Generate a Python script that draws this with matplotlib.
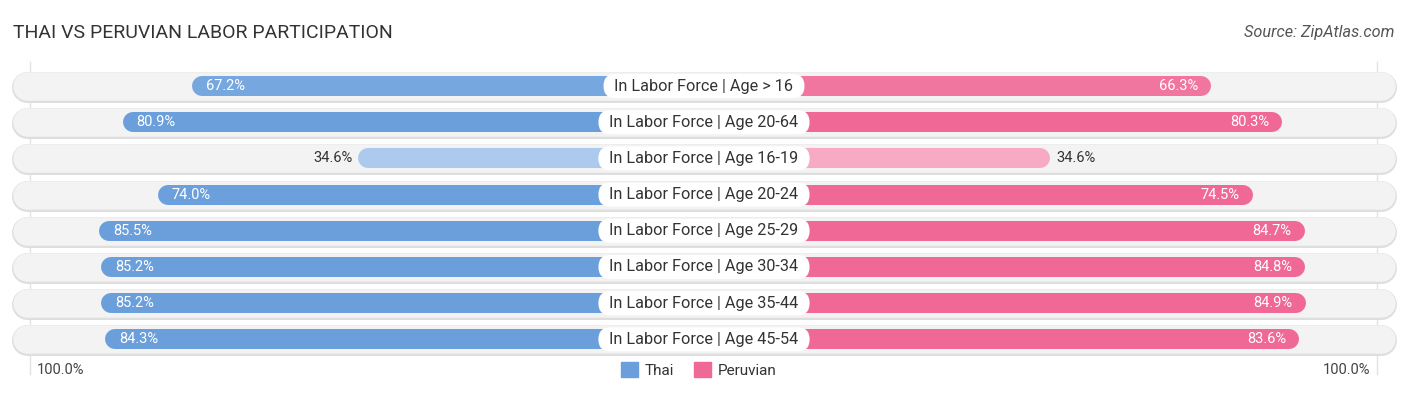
import matplotlib.pyplot as plt
import matplotlib.patches as mpatches
from matplotlib.transforms import IdentityTransform
from matplotlib.colors import to_rgb

plt.rcParams['font.family'] = ['Roboto', 'DejaVu Sans']

# Data
categories = [
    "In Labor Force | Age > 16",
    "In Labor Force | Age 20-64",
    "In Labor Force | Age 16-19",
    "In Labor Force | Age 20-24",
    "In Labor Force | Age 25-29",
    "In Labor Force | Age 30-34",
    "In Labor Force | Age 35-44",
    "In Labor Force | Age 45-54",
]
thai = [67.2, 80.9, 34.6, 74.0, 85.5, 85.2, 85.2, 84.3]
peruvian = [66.3, 80.3, 34.6, 74.5, 84.7, 84.8, 84.9, 83.6]

# Layout (data units are percent points, 1 unit = PX pixels)
W, H = 1406, 395
PX = 5.09
CX = 704
OFF = 33.3          # gap between centre and where 0% would sit
ROW0, ROWSTEP = 86, 36.2

blue_full, blue_light = to_rgb('#6a9fdc'), to_rgb('#c4daf4')
pink_full, pink_light = to_rgb('#f06895'), to_rgb('#f9c2d4')


def shade(full, light, v):
    t = min(1.0, max(0.0, (v - 20) / 55))
    return tuple(l + (f - l) * t for f, l in zip(full, light))


fig = plt.figure(figsize=(W / 100, H / 100), dpi=100)
ax = fig.add_axes([0, 0, 1, 1])
ax.set_xlim(-CX / PX, (W - CX) / PX)
ax.set_ylim((H - ROW0) / ROWSTEP, -ROW0 / ROWSTEP)
ax.axis('off')

pt = 72 / 100  # points per pixel
bg_half = 133.0
r_bar = 10 / PX

# faint vertical guides
for gx in (-132.4, 132.2):
    ax.plot([gx, gx], [-0.65, 7.95], color='#e2e2e2', lw=1, zorder=0)

renderer = fig.canvas.get_renderer()
for i, (cat, tv, pv) in enumerate(zip(categories, thai, peruvian)):
    # row background pill
    ax.plot([-bg_half, bg_half], [i + 0.03, i + 0.03], color='#dedede', lw=31 * pt,
            solid_capstyle='round', zorder=1)
    ax.plot([-bg_half, bg_half], [i, i], color='#f3f3f3', lw=28.5 * pt,
            solid_capstyle='round', zorder=1)

    # bars
    lend = -(OFF + tv)
    rend = OFF + pv
    ax.plot([lend + r_bar, 0], [i, i], color=shade(blue_full, blue_light, tv),
            lw=20 * pt, solid_capstyle='round', zorder=2)
    ax.plot([0, rend - r_bar], [i, i], color=shade(pink_full, pink_light, pv),
            lw=20 * pt, solid_capstyle='round', zorder=2)

    # value labels
    if tv > 50:
        ax.text(lend + 14 / PX, i, f"{tv:.1f}%", ha='left', va='center',
                color='white', fontsize=10.5, zorder=4)
    else:
        ax.text(lend - 6 / PX, i, f"{tv:.1f}%", ha='right', va='center',
                color='#333333', fontsize=10.5, zorder=4)
    if pv > 50:
        ax.text(rend - 13 / PX, i, f"{pv:.1f}%", ha='right', va='center',
                color='white', fontsize=10.5, zorder=4)
    else:
        ax.text(rend + 7 / PX, i, f"{pv:.1f}%", ha='left', va='center',
                color='#333333', fontsize=10.5, zorder=4)

    # category label with white pill behind it
    t = ax.text(0, i, cat, ha='center', va='center', fontsize=11.7, color='#333333', zorder=5)
    bb = t.get_window_extent(renderer)
    cx, cy = ax.transData.transform((0, i))
    pw, ph = bb.width + 22, 24
    pill = mpatches.FancyBboxPatch((cx - pw / 2, cy - ph / 2), pw, ph,
                                   boxstyle='round,pad=0,rounding_size=12',
                                   transform=IdentityTransform(), fc='white', ec='none',
                                   zorder=4.5)
    ax.add_artist(pill)

# title and source
fig.text(13 / W, 1 - 33 / H, "THAI VS PERUVIAN LABOR PARTICIPATION", ha='left', va='center',
         fontsize=14, color='#333333')
fig.text(1394 / W, 1 - 33 / H, "Source: ZipAtlas.com", ha='right', va='center',
         fontsize=11.7, color='#555555', style='italic')

# axis end labels
fig.text(37 / W, 1 - 370 / H, "100.0%", ha='left', va='center', fontsize=10.5, color='#444444')
fig.text(1370 / W, 1 - 370 / H, "100.0%", ha='right', va='center', fontsize=10.5, color='#444444')

# legend
handles = [mpatches.Patch(color=blue_full, label='Thai'),
           mpatches.Patch(color=pink_full, label='Peruvian')]
fig.legend(handles=handles, loc='center', bbox_to_anchor=(699 / W, 1 - 370 / H), ncol=2,
           frameon=False, fontsize=11, handlelength=1.1, handleheight=1.1,
           handletextpad=0.45, columnspacing=1.3, labelcolor='#333333')

fig.savefig('out.png', dpi=100)
